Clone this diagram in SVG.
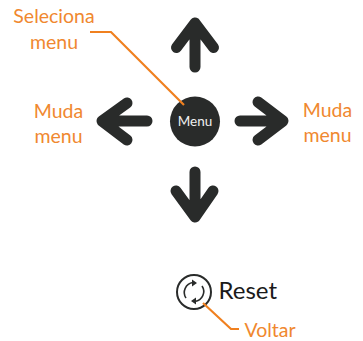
<svg xmlns="http://www.w3.org/2000/svg" width="363" height="341" viewBox="0 0 363 341">
<style>
.a{fill:none;stroke:#292b2a;stroke-width:11;stroke-linecap:round;stroke-linejoin:round}
.o{fill:none;stroke:#f0801f;stroke-width:2.200}
.t{font-family:"Lato",sans-serif;font-size:19.500px;fill:#f0882f;text-anchor:middle}
</style>
<g id="node-up"><path class="a" d="M195 67V24M176.500 47.500L195 23L213.500 47.500"/></g>
<g id="node-left"><path class="a" d="M147 121H104M127 103L102 121L127 140"/></g>
<g id="node-right"><path class="a" d="M240 121H281M258 102L283 121L258 140"/></g>
<g id="node-down"><path class="a" d="M195 172V215M176 191L195 217L213 191"/></g>
<g id="node-menu"><circle cx="195" cy="121.500" r="25" fill="#292b2a"/><text x="195" y="125.500" font-family="Lato, sans-serif" font-size="13.500" fill="#f0f0f0" text-anchor="middle">Menu</text></g>
<g id="node-reset"><circle cx="194" cy="292" r="17" fill="none" stroke="#292b2a" stroke-width="2"/><path d="M186 298A10 10 0 0 1 193 282.500M202 286A10 10 0 0 1 195 301.500" fill="none" stroke="#292b2a" stroke-width="1.600"/><path d="M197 283L192 279.500V286.500ZM191 301L196 297.500V304.500Z" fill="#292b2a"/><text x="218.500" y="299" font-family="Lato, sans-serif" font-size="24" fill="#1a1a1a">Reset</text></g>
<g id="connectors">
<path class="o" d="M90 32H111L184 105"/>
<path class="o" d="M203 303L231 329H239"/>
</g>
<g id="labels">
<text class="t" x="54" y="23">Seleciona</text><text class="t" x="54" y="49">menu</text>
<text class="t" x="58.500" y="118">Muda</text><text class="t" x="58.500" y="143">menu</text>
<text class="t" x="327.500" y="117">Muda</text><text class="t" x="327.500" y="142">menu</text>
<text class="t" x="270" y="337">Voltar</text>
</g>
</svg>
